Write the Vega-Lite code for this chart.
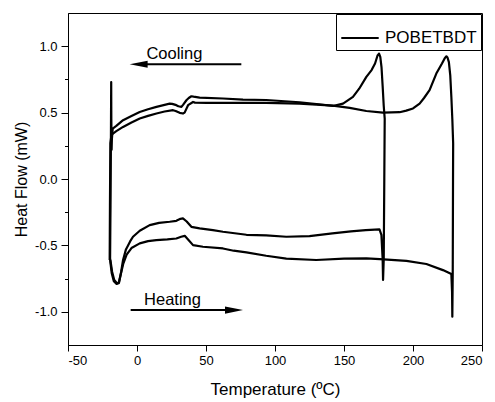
{
  "$schema": "https://vega.github.io/schema/vega-lite/v6.json",
  "width": 414,
  "height": 332,
  "autosize": {"type": "none"},
  "padding": {"left": 68, "top": 13, "right": 13, "bottom": 57},
  "config": {
    "font": "Liberation Sans",
    "view": {"stroke": "black", "strokeWidth": 1},
    "axis": {
      "grid": false,
      "domainColor": "black",
      "tickColor": "black",
      "labelColor": "black",
      "titleColor": "black",
      "labelFont": "Liberation Sans",
      "titleFont": "Liberation Sans",
      "labelFontSize": 13,
      "titleFontSize": 16,
      "titleFontWeight": "normal"
    }
  },
  "datasets": {
    "curves": [
      {"run": "180", "i": 1, "t": -19.3, "hf": -0.61},
      {"run": "180", "i": 2, "t": -18.0, "hf": -0.70},
      {"run": "180", "i": 3, "t": -16.5, "hf": -0.76},
      {"run": "180", "i": 4, "t": -14.5, "hf": -0.785},
      {"run": "180", "i": 5, "t": -13.0, "hf": -0.78},
      {"run": "180", "i": 6, "t": -11.5, "hf": -0.70},
      {"run": "180", "i": 7, "t": -10.1, "hf": -0.61},
      {"run": "180", "i": 8, "t": -8.0, "hf": -0.53},
      {"run": "180", "i": 9, "t": -5.0, "hf": -0.47},
      {"run": "180", "i": 10, "t": -2.9, "hf": -0.435},
      {"run": "180", "i": 11, "t": 2.0, "hf": -0.39},
      {"run": "180", "i": 12, "t": 9.2, "hf": -0.347},
      {"run": "180", "i": 13, "t": 16.0, "hf": -0.33},
      {"run": "180", "i": 14, "t": 23.7, "hf": -0.322},
      {"run": "180", "i": 15, "t": 28.5, "hf": -0.315},
      {"run": "180", "i": 16, "t": 31.5, "hf": -0.30},
      {"run": "180", "i": 17, "t": 33.3, "hf": -0.297},
      {"run": "180", "i": 18, "t": 36.0, "hf": -0.32},
      {"run": "180", "i": 19, "t": 39.4, "hf": -0.36},
      {"run": "180", "i": 20, "t": 45.4, "hf": -0.372},
      {"run": "180", "i": 21, "t": 55.0, "hf": -0.385},
      {"run": "180", "i": 22, "t": 62.3, "hf": -0.397},
      {"run": "180", "i": 23, "t": 79.3, "hf": -0.42},
      {"run": "180", "i": 24, "t": 93.6, "hf": -0.425},
      {"run": "180", "i": 25, "t": 108.2, "hf": -0.435},
      {"run": "180", "i": 26, "t": 125.0, "hf": -0.43},
      {"run": "180", "i": 27, "t": 141.6, "hf": -0.41},
      {"run": "180", "i": 28, "t": 155.0, "hf": -0.395},
      {"run": "180", "i": 29, "t": 165.8, "hf": -0.385},
      {"run": "180", "i": 30, "t": 175.7, "hf": -0.38},
      {"run": "180", "i": 31, "t": 177.1, "hf": -0.42},
      {"run": "180", "i": 32, "t": 178.0, "hf": -0.60},
      {"run": "180", "i": 33, "t": 178.3, "hf": -0.76},
      {"run": "180", "i": 34, "t": 178.8, "hf": -0.60},
      {"run": "180", "i": 35, "t": 179.2, "hf": 0.0},
      {"run": "180", "i": 36, "t": 179.5, "hf": 0.455},
      {"run": "180", "i": 37, "t": 178.8, "hf": 0.55},
      {"run": "180", "i": 38, "t": 178.0, "hf": 0.70},
      {"run": "180", "i": 39, "t": 177.2, "hf": 0.84},
      {"run": "180", "i": 40, "t": 176.3, "hf": 0.92},
      {"run": "180", "i": 41, "t": 175.4, "hf": 0.944},
      {"run": "180", "i": 42, "t": 174.3, "hf": 0.93},
      {"run": "180", "i": 43, "t": 172.5, "hf": 0.87},
      {"run": "180", "i": 44, "t": 170.0, "hf": 0.82},
      {"run": "180", "i": 45, "t": 166.2, "hf": 0.769},
      {"run": "180", "i": 46, "t": 161.0, "hf": 0.68},
      {"run": "180", "i": 47, "t": 156.5, "hf": 0.618},
      {"run": "180", "i": 48, "t": 149.3, "hf": 0.568},
      {"run": "180", "i": 49, "t": 142.0, "hf": 0.55},
      {"run": "180", "i": 50, "t": 130.0, "hf": 0.565},
      {"run": "180", "i": 51, "t": 117.8, "hf": 0.578},
      {"run": "180", "i": 52, "t": 93.6, "hf": 0.595},
      {"run": "180", "i": 53, "t": 76.8, "hf": 0.598},
      {"run": "180", "i": 54, "t": 62.3, "hf": 0.606},
      {"run": "180", "i": 55, "t": 45.4, "hf": 0.613},
      {"run": "180", "i": 56, "t": 41.0, "hf": 0.62},
      {"run": "180", "i": 57, "t": 39.4, "hf": 0.623},
      {"run": "180", "i": 58, "t": 37.5, "hf": 0.61},
      {"run": "180", "i": 59, "t": 35.8, "hf": 0.593},
      {"run": "180", "i": 60, "t": 33.5, "hf": 0.56},
      {"run": "180", "i": 61, "t": 32.2, "hf": 0.543},
      {"run": "180", "i": 62, "t": 30.0, "hf": 0.548},
      {"run": "180", "i": 63, "t": 28.5, "hf": 0.556},
      {"run": "180", "i": 64, "t": 25.5, "hf": 0.566},
      {"run": "180", "i": 65, "t": 23.7, "hf": 0.568},
      {"run": "180", "i": 66, "t": 14.1, "hf": 0.543},
      {"run": "180", "i": 67, "t": 8.0, "hf": 0.525},
      {"run": "180", "i": 68, "t": 1.96, "hf": 0.505},
      {"run": "180", "i": 69, "t": -4.0, "hf": 0.475},
      {"run": "180", "i": 70, "t": -10.1, "hf": 0.443},
      {"run": "180", "i": 71, "t": -15.0, "hf": 0.40},
      {"run": "180", "i": 72, "t": -17.6, "hf": 0.38},
      {"run": "180", "i": 73, "t": -18.2, "hf": 0.30},
      {"run": "180", "i": 74, "t": -18.4, "hf": 0.22},
      {"run": "180", "i": 75, "t": -18.6, "hf": 0.45},
      {"run": "180", "i": 76, "t": -18.7, "hf": 0.73},
      {"run": "180", "i": 77, "t": -18.9, "hf": 0.30},
      {"run": "180", "i": 78, "t": -19.2, "hf": -0.20},
      {"run": "180", "i": 79, "t": -19.5, "hf": -0.61},
      {"run": "230", "i": 1, "t": -19.6, "hf": -0.60},
      {"run": "230", "i": 2, "t": -18.3, "hf": -0.71},
      {"run": "230", "i": 3, "t": -16.8, "hf": -0.77},
      {"run": "230", "i": 4, "t": -14.8, "hf": -0.79},
      {"run": "230", "i": 5, "t": -13.3, "hf": -0.785},
      {"run": "230", "i": 6, "t": -11.8, "hf": -0.72},
      {"run": "230", "i": 7, "t": -10.0, "hf": -0.64},
      {"run": "230", "i": 8, "t": -7.5, "hf": -0.57},
      {"run": "230", "i": 9, "t": -4.0, "hf": -0.52},
      {"run": "230", "i": 10, "t": 2.0, "hf": -0.485},
      {"run": "230", "i": 11, "t": 8.0, "hf": -0.468},
      {"run": "230", "i": 12, "t": 14.0, "hf": -0.46},
      {"run": "230", "i": 13, "t": 22.0, "hf": -0.455},
      {"run": "230", "i": 14, "t": 28.5, "hf": -0.448},
      {"run": "230", "i": 15, "t": 32.0, "hf": -0.435},
      {"run": "230", "i": 16, "t": 34.6, "hf": -0.428},
      {"run": "230", "i": 17, "t": 37.0, "hf": -0.455},
      {"run": "230", "i": 18, "t": 40.6, "hf": -0.498},
      {"run": "230", "i": 19, "t": 47.8, "hf": -0.51},
      {"run": "230", "i": 20, "t": 62.3, "hf": -0.523},
      {"run": "230", "i": 21, "t": 70.0, "hf": -0.54},
      {"run": "230", "i": 22, "t": 79.3, "hf": -0.553},
      {"run": "230", "i": 23, "t": 93.6, "hf": -0.578},
      {"run": "230", "i": 24, "t": 108.2, "hf": -0.60},
      {"run": "230", "i": 25, "t": 129.9, "hf": -0.61},
      {"run": "230", "i": 26, "t": 150.0, "hf": -0.60},
      {"run": "230", "i": 27, "t": 166.2, "hf": -0.598},
      {"run": "230", "i": 28, "t": 175.9, "hf": -0.603},
      {"run": "230", "i": 29, "t": 195.2, "hf": -0.616},
      {"run": "230", "i": 30, "t": 209.7, "hf": -0.64},
      {"run": "230", "i": 31, "t": 221.7, "hf": -0.686},
      {"run": "230", "i": 32, "t": 227.8, "hf": -0.716},
      {"run": "230", "i": 33, "t": 228.3, "hf": -0.85},
      {"run": "230", "i": 34, "t": 228.5, "hf": -1.037},
      {"run": "230", "i": 35, "t": 228.8, "hf": -0.70},
      {"run": "230", "i": 36, "t": 229.0, "hf": 0.0},
      {"run": "230", "i": 37, "t": 229.1, "hf": 0.267},
      {"run": "230", "i": 38, "t": 228.5, "hf": 0.45},
      {"run": "230", "i": 39, "t": 227.8, "hf": 0.618},
      {"run": "230", "i": 40, "t": 227.0, "hf": 0.78},
      {"run": "230", "i": 41, "t": 226.0, "hf": 0.88},
      {"run": "230", "i": 42, "t": 225.0, "hf": 0.915},
      {"run": "230", "i": 43, "t": 224.2, "hf": 0.924},
      {"run": "230", "i": 44, "t": 223.0, "hf": 0.91},
      {"run": "230", "i": 45, "t": 221.0, "hf": 0.87},
      {"run": "230", "i": 46, "t": 216.9, "hf": 0.794},
      {"run": "230", "i": 47, "t": 212.0, "hf": 0.669},
      {"run": "230", "i": 48, "t": 208.0, "hf": 0.61},
      {"run": "230", "i": 49, "t": 204.8, "hf": 0.568},
      {"run": "230", "i": 50, "t": 200.0, "hf": 0.531},
      {"run": "230", "i": 51, "t": 195.1, "hf": 0.515},
      {"run": "230", "i": 52, "t": 190.3, "hf": 0.503},
      {"run": "230", "i": 53, "t": 178.2, "hf": 0.50},
      {"run": "230", "i": 54, "t": 166.2, "hf": 0.512},
      {"run": "230", "i": 55, "t": 154.1, "hf": 0.535},
      {"run": "230", "i": 56, "t": 142.0, "hf": 0.553},
      {"run": "230", "i": 57, "t": 117.8, "hf": 0.568},
      {"run": "230", "i": 58, "t": 93.6, "hf": 0.573},
      {"run": "230", "i": 59, "t": 76.8, "hf": 0.573},
      {"run": "230", "i": 60, "t": 50.3, "hf": 0.573},
      {"run": "230", "i": 61, "t": 42.0, "hf": 0.575},
      {"run": "230", "i": 62, "t": 40.6, "hf": 0.58},
      {"run": "230", "i": 63, "t": 37.0, "hf": 0.556},
      {"run": "230", "i": 64, "t": 34.5, "hf": 0.50},
      {"run": "230", "i": 65, "t": 33.3, "hf": 0.493},
      {"run": "230", "i": 66, "t": 30.9, "hf": 0.498},
      {"run": "230", "i": 67, "t": 28.0, "hf": 0.512},
      {"run": "230", "i": 68, "t": 26.1, "hf": 0.518},
      {"run": "230", "i": 69, "t": 20.0, "hf": 0.508},
      {"run": "230", "i": 70, "t": 14.1, "hf": 0.493},
      {"run": "230", "i": 71, "t": 8.0, "hf": 0.475},
      {"run": "230", "i": 72, "t": 2.0, "hf": 0.455},
      {"run": "230", "i": 73, "t": -4.0, "hf": 0.425},
      {"run": "230", "i": 74, "t": -10.1, "hf": 0.392},
      {"run": "230", "i": 75, "t": -15.0, "hf": 0.36},
      {"run": "230", "i": 76, "t": -17.4, "hf": 0.342},
      {"run": "230", "i": 77, "t": -18.5, "hf": 0.33},
      {"run": "230", "i": 78, "t": -19.3, "hf": 0.27},
      {"run": "230", "i": 79, "t": -19.6, "hf": -0.20},
      {"run": "230", "i": 80, "t": -19.8, "hf": -0.61}
    ],
    "arrows": [
      {"label": "Cooling", "x1": 75.6, "x2": 1.2, "y": 0.864, "hx": 1.2, "dir": "left", "tx": 6.8, "ty": 0.907},
      {"label": "Heating", "x1": -4.6, "x2": 70.3, "y": -0.987, "hx": 70.3, "dir": "right", "tx": 5.1, "ty": -0.949}
    ]
  },
  "layer": [
    {
      "data": {"name": "curves"},
      "transform": [{"calculate": "'POBETBDT'", "as": "sample"}],
      "mark": {"type": "line", "strokeWidth": 2.2, "strokeJoin": "round"},
      "encoding": {
        "x": {
          "field": "t", "type": "quantitative",
          "scale": {"domain": [-50, 250], "nice": false, "zero": false},
          "axis": {
            "title": "Temperature (ºC)",
            "values": [-50, -25, 0, 25, 50, 75, 100, 125, 150, 175, 200, 225, 250],
            "labelExpr": "datum.value % 50 === 0 ? replace(format(datum.value, 'd'), '\u2212', '-') : ''",
            "tickSize": {"condition": {"test": "datum.value % 50 === 0", "value": 6}, "value": 3},
            "labelPadding": 3,
            "titlePadding": 14,
            "titleFontSize": 17
          }
        },
        "y": {
          "field": "hf", "type": "quantitative",
          "scale": {"domain": [-1.25, 1.25], "nice": false, "zero": false},
          "axis": {
            "title": "Heat Flow (mW)",
            "values": [-1, -0.75, -0.5, -0.25, 0, 0.25, 0.5, 0.75, 1],
            "labelExpr": "datum.value % 0.5 === 0 ? replace(format(datum.value, '.1f'), '\u2212', '-') : ''",
            "tickSize": {"condition": {"test": "datum.value % 0.5 === 0", "value": 7}, "value": 3.5},
            "labelPadding": 4,
            "titlePadding": 5
          }
        },
        "detail": {"field": "run"},
        "order": {"field": "i", "type": "quantitative"},
        "color": {
          "field": "sample", "type": "nominal",
          "scale": {"range": ["black"]},
          "legend": {
            "title": null,
            "orient": "top-right",
            "offset": 1,
            "padding": 4,
            "strokeColor": "black",
            "fillColor": "white",
            "symbolType": "stroke",
            "symbolSize": 1400,
            "symbolStrokeWidth": 2,
            "labelFontSize": 17,
            "labelFont": "Liberation Sans",
            "labelColor": "black",
            "labelOffset": 5
          }
        }
      }
    },
    {
      "data": {"name": "arrows"},
      "mark": {"type": "rule", "strokeWidth": 2, "color": "black"},
      "encoding": {
        "x": {"field": "x1", "type": "quantitative"},
        "x2": {"field": "x2"},
        "y": {"field": "y", "type": "quantitative"}
      }
    },
    {
      "data": {"name": "arrows"},
      "mark": {"type": "point", "filled": true, "color": "black", "opacity": 1, "size": 324, "strokeWidth": 0},
      "encoding": {
        "x": {"field": "hx", "type": "quantitative"},
        "y": {"field": "y", "type": "quantitative"},
        "shape": {
          "field": "dir", "type": "nominal",
          "scale": {"domain": ["left", "right"], "range": ["M -1 0 L 1 -0.4 L 1 0.4 Z", "M 1 0 L -1 -0.4 L -1 0.4 Z"]},
          "legend": null
        }
      }
    },
    {
      "data": {"name": "arrows"},
      "mark": {"type": "text", "align": "left", "baseline": "alphabetic", "fontSize": 16.5, "font": "Liberation Sans", "color": "black"},
      "encoding": {
        "x": {"field": "tx", "type": "quantitative"},
        "y": {"field": "ty", "type": "quantitative"},
        "text": {"field": "label"}
      }
    }
  ]
}
